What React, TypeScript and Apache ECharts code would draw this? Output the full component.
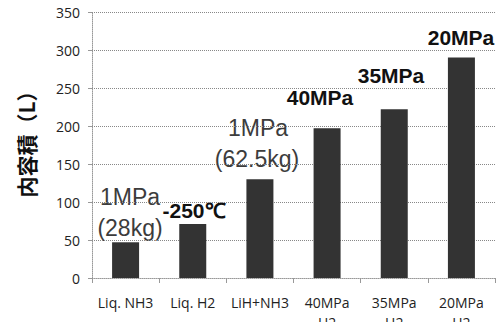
import React, { useEffect, useRef } from "react";
import * as echarts from "echarts";

const categories = ["Liq. NH3", "Liq. H2", "LiH+NH3", "40MPa\nH2", "35MPa\nH2", "20MPa\nH2"];
const volumes = [47, 71, 130, 197, 222, 290];
const yTicks = { min: 0, max: 350, interval: 50 };
const yTitle = "内容積（L）";

export default function App() {
  const ref = useRef<HTMLDivElement>(null);
  useEffect(() => {
    const chart = echarts.init(ref.current!, null, { renderer: "svg" });
    const gray = "#3c3c3c";
    const font = "Liberation Sans, Arial, sans-serif";
    chart.setOption({
      animation: false,
      grid: { left: 92, right: 7, top: 12, bottom: 44, outerBoundsMode: "none", containLabel: false },
      xAxis: {
        type: "category",
        data: categories,
        axisLine: { lineStyle: { color: "#999", type: "dotted", width: 1 } },
        axisTick: { show: true, length: 5, lineStyle: { color: "#999" } },
        axisLabel: {
          color: "#222",
          fontSize: 14,
          fontFamily: "Open Sans, Noto Sans, sans-serif",
          margin: 14,
          lineHeight: 20,
          interval: 0,
        },
      },
      yAxis: {
        type: "value",
        min: yTicks.min,
        max: yTicks.max,
        interval: yTicks.interval,
        axisLine: { show: true, lineStyle: { color: "#999", type: "dotted" } },
        axisTick: { show: true, length: 4, lineStyle: { color: "#999" } },
        axisLabel: {
          color: "#222",
          fontSize: 14,
          fontFamily: "Open Sans, Noto Sans, sans-serif",
          margin: 12,
        },
        splitLine: { lineStyle: { color: "#888", type: "dotted", width: 1 } },
      },
      series: [
        {
          type: "bar",
          data: volumes,
          barWidth: 27,
          itemStyle: { color: "#333333" },
        },
      ],
      graphic: [
        { type: "text", x: 26, y: 139, rotation: Math.PI / 2, style: { text: yTitle, fill: "#111", fontSize: 21, fontWeight: "bold", fontFamily: "Noto Sans CJK JP, sans-serif", align: "center", verticalAlign: "middle" } },
        { type: "text", x: 130, y: 197, style: { text: "1MPa", fill: gray, fontSize: 23, fontFamily: font, align: "center", verticalAlign: "middle" } },
        { type: "text", x: 130, y: 228, style: { text: "(28kg)", fill: gray, fontSize: 23, fontFamily: font, align: "center", verticalAlign: "middle" } },
        { type: "text", x: 194, y: 210, style: { text: "-250℃", fill: "#111", fontSize: 21, fontWeight: "bold", fontFamily: font, align: "center", verticalAlign: "middle" } },
        { type: "text", x: 258, y: 128, style: { text: "1MPa", fill: gray, fontSize: 23, fontFamily: font, align: "center", verticalAlign: "middle" } },
        { type: "text", x: 257, y: 159, style: { text: "(62.5kg)", fill: gray, fontSize: 23, fontFamily: font, align: "center", verticalAlign: "middle" } },
        { type: "text", x: 320, y: 97, style: { text: "40MPa", fill: "#111", fontSize: 21, fontWeight: "bold", fontFamily: font, align: "center", verticalAlign: "middle" } },
        { type: "text", x: 391, y: 75, style: { text: "35MPa", fill: "#111", fontSize: 21, fontWeight: "bold", fontFamily: font, align: "center", verticalAlign: "middle" } },
        { type: "text", x: 461, y: 37, style: { text: "20MPa", fill: "#111", fontSize: 21, fontWeight: "bold", fontFamily: font, align: "center", verticalAlign: "middle" } },
      ],
    });
    return () => chart.dispose();
  }, []);
  return <div ref={ref} style={{ width: 502, height: 322, position: "fixed", left: 0, top: 0, background: "#fff" }} />;
}
